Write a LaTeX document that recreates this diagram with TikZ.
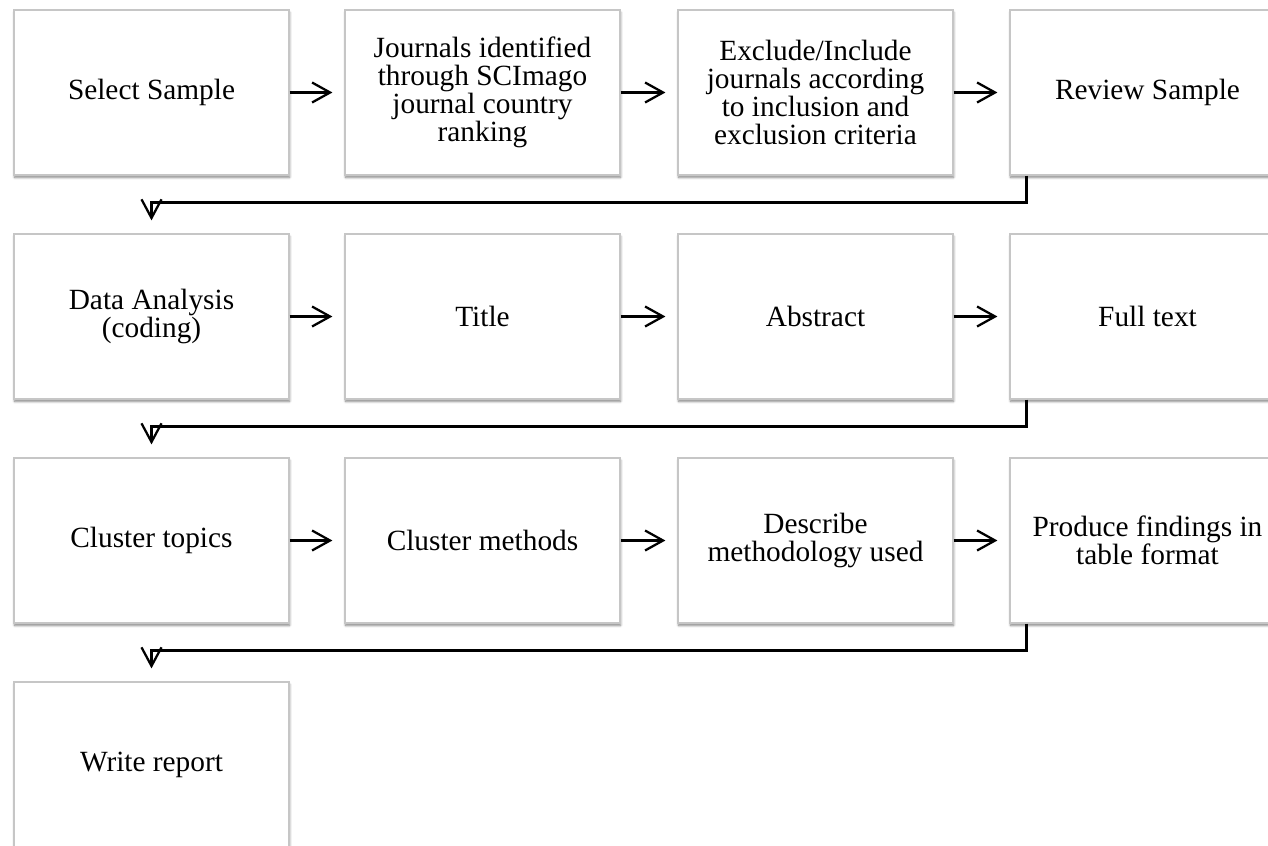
\documentclass[tikz,border=0pt]{standalone}
\usepackage{fontspec}
\setmainfont{Liberation Serif}
\usetikzlibrary{arrows.meta,shadows.blur,positioning}
\begin{document}
\begin{tikzpicture}[x=0.75pt,y=-0.75pt,
  stage/.style={rectangle, minimum width=206.25pt, minimum height=123.75pt,
    inner sep=0pt, fill=white, draw=gray!45, line width=0.9pt,
    blur shadow={shadow xshift=0.4pt, shadow yshift=-1.8pt,
      shadow blur steps=6, shadow blur radius=1.8pt, shadow opacity=50},
    align=center, font=\fontsize{22pt}{21pt}\selectfont},
  arr/.style={line width=1.7pt, -{Straight Barb[length=13.5pt,width=15pt,line width=1.7pt]}},
  conn/.style={line width=1.7pt, -{Straight Barb[length=14pt,width=15pt,line width=1.7pt]}}]
\useasboundingbox (0,0) rectangle (1268,846);

% column centres: 151.5, 482.5, 815.5, 1147.5 ; row centres: 92.5, 316.5, 540.5, 764.5
\node[stage] (r1a) at (151.5,92.5)  {Select Sample};
\node[stage] (r1b) at (482.5,92.5)  {Journals identified\\through SCImago\\journal country\\ranking};
\node[stage] (r1c) at (815.5,92.5)  {Exclude/Include\\journals according\\to inclusion and\\exclusion criteria};
\node[stage] (r1d) at (1147.5,92.5) {Review Sample};

\node[stage] (r2a) at (151.5,316.5)  {Data Analysis\\(coding)};
\node[stage] (r2b) at (482.5,316.5)  {Title};
\node[stage] (r2c) at (815.5,316.5)  {Abstract};
\node[stage] (r2d) at (1147.5,316.5) {Full text};

\node[stage] (r3a) at (151.5,540.5)  {Cluster topics};
\node[stage] (r3b) at (482.5,540.5)  {Cluster methods};
\node[stage] (r3c) at (815.5,540.5)  {Describe\\methodology used};
\node[stage] (r3d) at (1147.5,540.5) {Produce findings in\\table format};

\node[stage] (r4a) at (151.5,764.5)  {Write report};

% steps within a row
\foreach \r in {r1,r2,r3}{
  \draw[arr] (\r a.east) -- ([xshift=-9pt]\r b.west);
  \draw[arr] (\r b.east) -- ([xshift=-9pt]\r c.west);
  \draw[arr] (\r c.east) -- ([xshift=-9pt]\r d.west);
}

% return from the end of a row to the start of the next
\draw[conn] ([xshift=12.75pt]r1d.south west) -- ++(0,27) -| ([yshift=9.75pt]r2a.north);
\draw[conn] ([xshift=12.75pt]r2d.south west) -- ++(0,27) -| ([yshift=9.75pt]r3a.north);
\draw[conn] ([xshift=12.75pt]r3d.south west) -- ++(0,27) -| ([yshift=9.75pt]r4a.north);
\end{tikzpicture}
\end{document}
